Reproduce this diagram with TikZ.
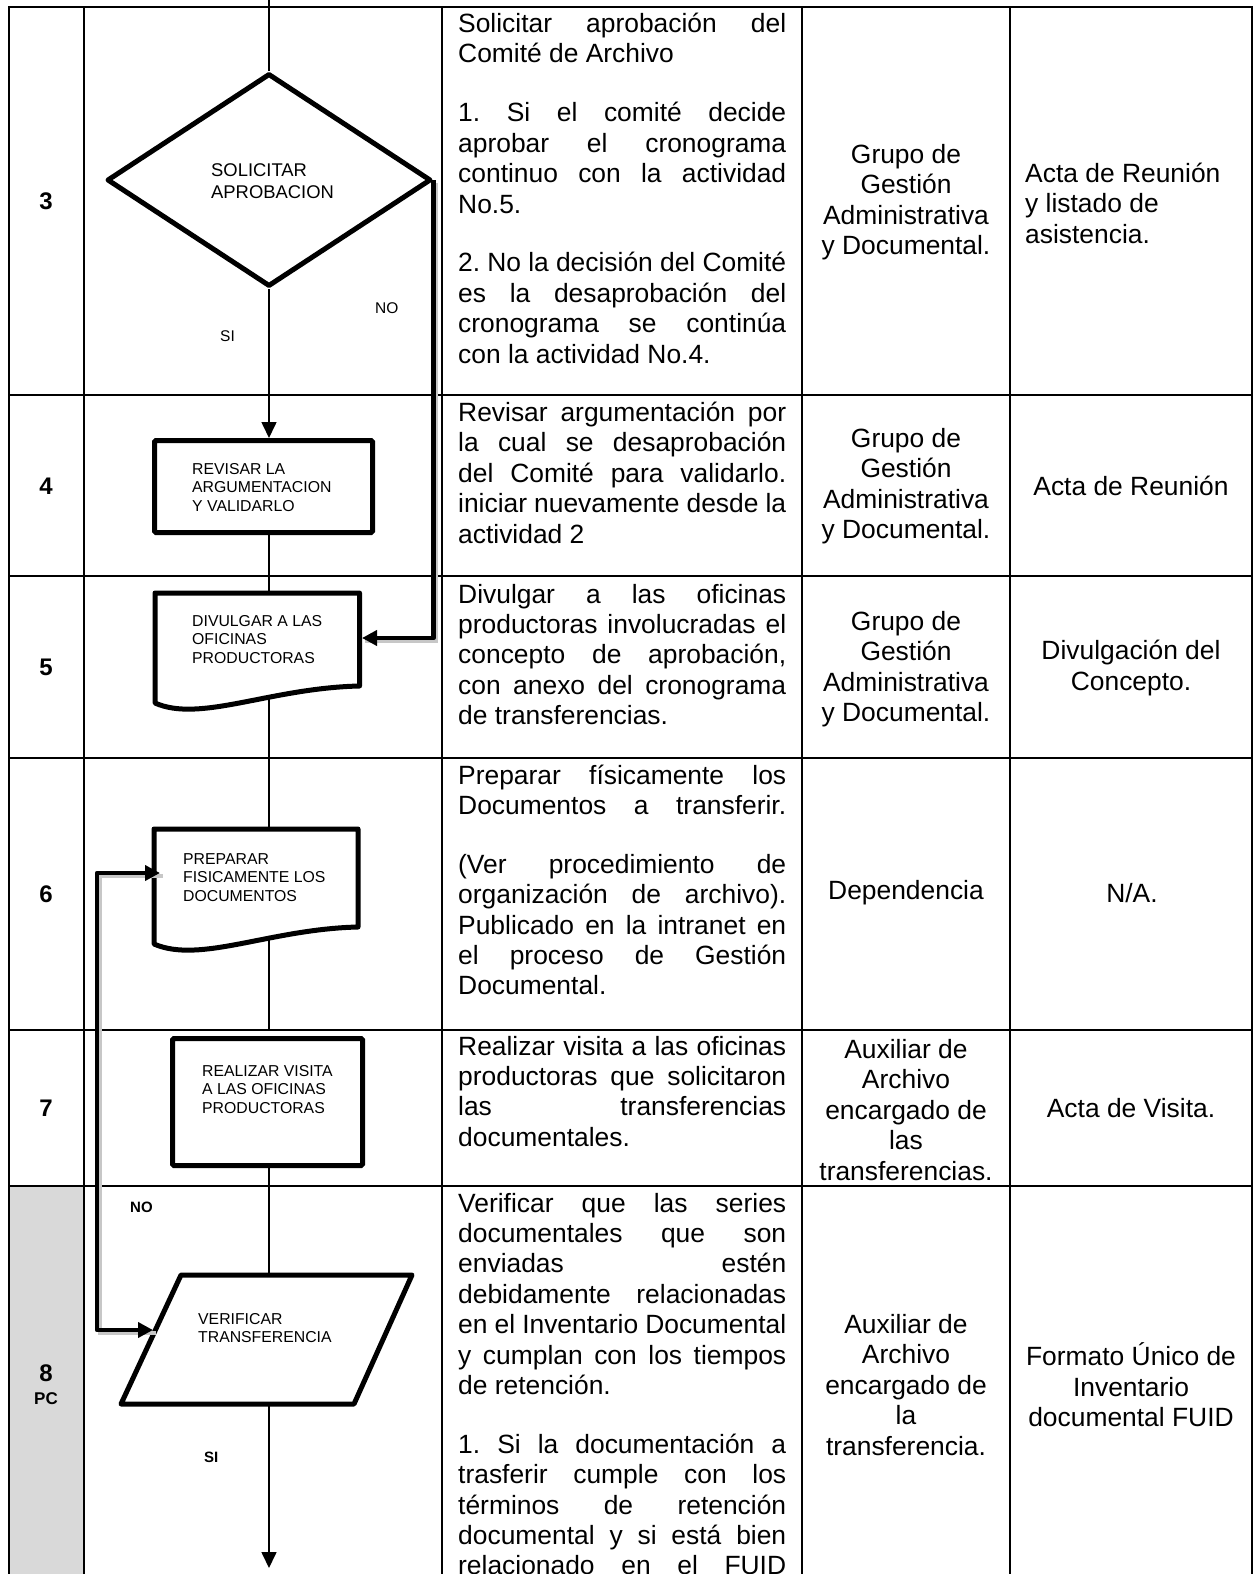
\documentclass[tikz,border=0pt]{standalone}
\usepackage{fontspec}
\setmainfont{Liberation Sans}
\usetikzlibrary{shapes.geometric,arrows.meta}
\newcommand{\jline}[1]{\makebox[\linewidth][s]{#1}}
\newcommand{\blankgap}{\\[28.5pt]}
\tikzset{
 tableline/.style={line width=1.9pt, line cap=rect},
 flowline/.style={line width=1.6pt},
 flowarrow/.style={line width=1.6pt, -{Triangle[length=16pt,width=15pt]}},
 shapebox/.style={draw, line width=5pt, fill=white, rounded corners=1.5pt},
 shapeline/.style={draw, line width=5pt, fill=white, line join=round},
 ghost/.style={inner sep=0pt, outer sep=0pt, draw=none},
 backflow/.style={line width=4.8pt, line join=round, preaction={draw=black!22, line width=4pt, arrows=-, transform canvas={shift={(2.5,2.5)}}}},
 bigtip/.style={-{Triangle[length=15pt,width=15pt]}},
 bigtips/.style={{Triangle[length=15pt,width=15pt]}-{Triangle[length=15pt,width=15pt]}},
 desc/.style={anchor=base west, inner sep=0pt, font=\fontsize{26.4pt}{30.4pt}\selectfont},
 cell/.style={align=center, inner sep=0pt, font=\fontsize{26.4pt}{30.5pt}\selectfont},
 stext/.style={anchor=base west, inner sep=0pt, font=\fontsize{15.8pt}{18.6pt}\selectfont},
 lbl/.style={anchor=base west, inner sep=0pt, font=\fontsize{15.5pt}{18pt}\selectfont},
 blbl/.style={anchor=base west, inner sep=0pt, font=\fontsize{15pt}{18pt}\selectfont\bfseries},
 num/.style={inner sep=0pt, font=\fontsize{24pt}{28pt}\selectfont\bfseries},
}
\begin{document}
\frenchspacing
\begin{tikzpicture}[x=1pt,y=-1pt]
\useasboundingbox (0,0) rectangle (1254,1574);
\clip (0,0) rectangle (1254,1574);
% gray cell
\fill[black!15] (9,1186) rectangle (84,1600);
% table
\foreach \yy in {7,395,576,758,1030,1186} \draw[tableline] (9,\yy) -- (1252,\yy);
\foreach \xx in {9,84,442,802,1010,1252} \draw[tableline] (\xx,7) -- (\xx,1600);

% coordinates
\coordinate (top0) at (269,0);
\coordinate (rowend6) at (269,1029);
\coordinate (flowend) at (269,1568);
\coordinate (d5in) at (362,638);
\coordinate (d6in) at (160,873);
\coordinate (p8in) at (153,1330);
\coordinate (loopc) at (97,873);

% ghost nodes for custom shapes
\node[ghost, minimum width=204pt, minimum height=117pt] (d5) at (257,650) {};
\node[ghost, minimum width=204pt, minimum height=122pt] (d6) at (256,890) {};
\node[ghost, minimum width=291pt, minimum height=129pt] (p8) at (266.5,1339.5) {};
\node[ghost, minimum width=190pt, minimum height=127pt] (b7) at (267.5,1102) {};

% connectors behind shapes
\draw[flowline] (top0 |- d5.center) -- (top0 |- d6.center);
\draw[flowline] (top0 |- d6.center) -- (rowend6);
\draw[flowline] (top0 |- b7.center) -- (top0 |- p8.center);
\draw[flowarrow] (top0 |- p8.center) -- (flowend);

% shapes
\node[diamond, draw, line width=5pt, line join=round, fill=white, inner sep=0pt,
      minimum width=324pt, minimum height=213pt] (dia) at (269,180) {};
\node[ghost, minimum width=218pt, minimum height=92pt] (b4) at (263.5,486.5) {};
\draw[flowline] (top0 |- b4.center) -- (top0 |- d5.center);
\node[shapebox, minimum width=218pt, minimum height=92pt] (b4box) at (263.5,486.5) {};
\draw[shapeline] (155,593) -- (359.5,593) -- (359.5,686) .. controls (270,688) and (200,723) .. (155,703) -- cycle;
\draw[shapeline] (154,829) -- (358,829) -- (358,927) .. controls (270,929) and (200,964) .. (154,944) -- cycle;
\node[shapebox, minimum width=190pt, minimum height=127pt] (b7box) at (267.5,1102) {};
\draw[shapeline] (181,1275) -- (412,1275) -- (354,1404) -- (121,1404) -- cycle;

% connectors on top
\draw[flowline] (top0) -- (dia.north);
\draw[flowarrow] (dia.south) -- (dia.south |- b4box.north);
\draw[backflow, bigtip] (dia.east) |- (d5in);
\draw[backflow, bigtips] (p8in) -| (loopc) -- (d6in);

% shape texts
\node[stext] (tdia) at (211,176.7) {\parbox[t]{150pt}{\fontsize{18.4pt}{21.5pt}\selectfont SOLICITAR\\APROBACION}};
\node[stext] (tb4) at (192,474) {\parbox[t]{170pt}{REVISAR LA\\ARGUMENTACION\\Y VALIDARLO}};
\node[stext] (td5) at (192,626) {\parbox[t]{170pt}{DIVULGAR A LAS\\OFICINAS\\PRODUCTORAS}};
\node[stext] (td6) at (183,864) {\parbox[t]{170pt}{PREPARAR\\FISICAMENTE LOS\\DOCUMENTOS}};
\node[stext] (tb7) at (202,1076) {\parbox[t]{170pt}{REALIZAR VISITA\\A LAS OFICINAS\\PRODUCTORAS}};
\node[stext] (tp8) at (198,1324) {\parbox[t]{170pt}{VERIFICAR\\TRANSFERENCIA}};

% labels
\node[lbl] (lno1) at (375,313) {NO};
\node[lbl] (lsi1) at (220,341) {SI};
\node[blbl] (lno2) at (130,1212) {NO};
\node[blbl] (lsi2) at (204,1462) {SI};

% row numbers
\node[num] (n3) at (46,201) {3};
\node[num] (n4) at (46,486) {4};
\node[num] (n5) at (46,667) {5};
\node[num] (n6) at (46,894) {6};
\node[num] (n7) at (46,1108) {7};
\node[num] (n8) at (46,1373.5) {8};
\node[inner sep=0pt, font=\fontsize{17pt}{20pt}\selectfont\bfseries] (npc) at (46,1399) {PC};

% descriptions
\node[desc] (t3) at (458,32.5) {\parbox[t]{328pt}{%
\jline{Solicitar aprobación del}\\
Comité de Archivo\blankgap
\jline{1. Si el comité decide}\\
\jline{aprobar el cronograma}\\
\jline{continuo con la actividad}\\
No.5.\blankgap
\jline{2. No la decisión del Comité}\\
\jline{es la desaprobación del}\\
\jline{cronograma se continúa}\\
con la actividad No.4.}};
\node[desc] (t4) at (458,421.5) {\parbox[t]{328pt}{%
\jline{Revisar argumentación por}\\
\jline{la cual se desaprobación}\\
\jline{del Comité para validarlo.}\\
\jline{iniciar nuevamente desde la}\\
actividad 2}};
\node[desc] (t5) at (458,603) {\parbox[t]{328pt}{%
\jline{Divulgar a las oficinas}\\
\jline{productoras involucradas el}\\
\jline{concepto de aprobación,}\\
\jline{con anexo del cronograma}\\
de transferencias.}};
\node[desc] (t6) at (458,784) {\parbox[t]{328pt}{%
\jline{Preparar físicamente los}\\
\jline{Documentos a transferir.}\blankgap
\jline{(Ver procedimiento de}\\
\jline{organización de archivo).}\\
\jline{Publicado en la intranet en}\\
\jline{el proceso de Gestión}\\
Documental.}};
\node[desc] (t7) at (458,1055) {\parbox[t]{328pt}{%
\jline{Realizar visita a las oficinas}\\
\jline{productoras que solicitaron}\\
\jline{las transferencias}\\
documentales.}};
\node[desc] (t8) at (458,1212) {\parbox[t]{328pt}{%
\jline{Verificar que las series}\\
\jline{documentales que son}\\
\jline{enviadas estén}\\
\jline{debidamente relacionadas}\\
\jline{en el Inventario Documental}\\
\jline{y cumplan con los tiempos}\\
de retención.\blankgap
\jline{1. Si la documentación a}\\
\jline{trasferir cumple con los}\\
\jline{términos de retención}\\
\jline{documental y si está bien}\\
\jline{relacionado en el FUID}}};

% responsible
\node[cell] (r3) at (906,202) {Grupo de\\Gestión\\Administrativa\\y Documental.};
\node[cell] (r4) at (906,486) {Grupo de\\Gestión\\Administrativa\\y Documental.};
\node[cell] (r5) at (906,669) {Grupo de\\Gestión\\Administrativa\\y Documental.};
\node[cell] (r6) at (906,893) {Dependencia};
\node[cell] (r7) at (906,1110) {Auxiliar de\\Archivo\\encargado de\\las\\transferencias.};
\node[cell] (r8) at (906,1385) {Auxiliar de\\Archivo\\encargado de\\la\\transferencia.};

% records
\node[cell, align=left, anchor=west] (g3) at (1025,203) {Acta de Reunión\\y listado de\\asistencia.};
\node[cell] (g4) at (1131,486) {Acta de Reunión};
\node[cell] (g5) at (1131,668) {Divulgación del\\Concepto.};
\node[cell] (g6) at (1132,893) {N/A.};
\node[cell] (g7) at (1131,1108) {Acta de Visita.};
\node[cell] (g8) at (1131,1385) {Formato Único de\\Inventario\\documental FUID};
\end{tikzpicture}
\end{document}
